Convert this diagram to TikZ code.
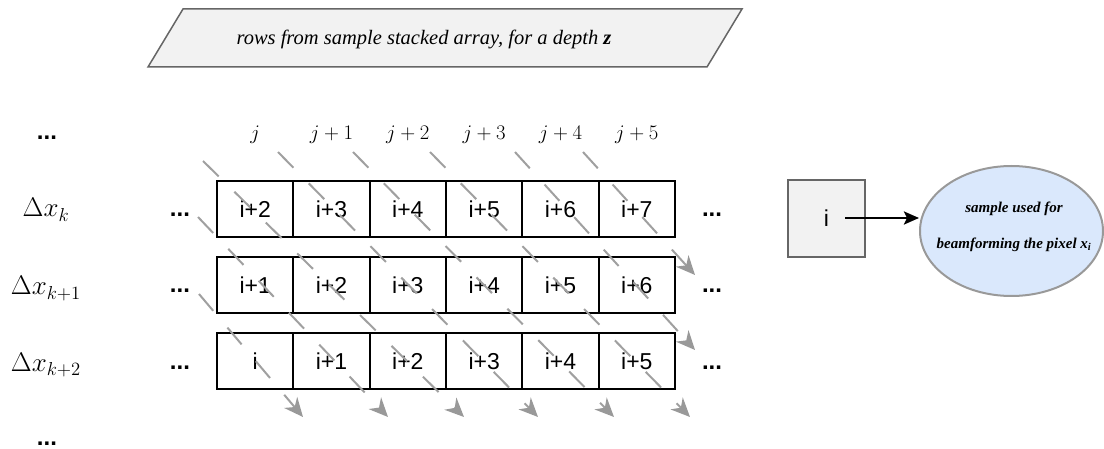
\documentclass[tikz,border=0pt]{standalone}
\usepackage[no-math]{fontspec}
\setmainfont{Liberation Serif}
\newfontfamily\arialf{Liberation Sans}
\usetikzlibrary{arrows.meta,shapes.geometric}
\definecolor{pgray}{HTML}{F2F2F2}
\definecolor{pborder}{HTML}{666666}
\definecolor{dgray}{HTML}{A0A0A0}
\definecolor{agray}{HTML}{999999}
\definecolor{eblue}{HTML}{DAE8FC}
\definecolor{eborder}{HTML}{999999}
\begin{document}
\begin{tikzpicture}[x=1pt,y=-1pt,
  cell/.style={draw=black, line width=2pt, minimum width=76.33pt, minimum height=56pt, inner sep=0pt, font=\arialf\fontsize{23}{27}\selectfont},
  dots/.style={font=\arialf\bfseries\fontsize{24}{28}\selectfont, anchor=base, inner sep=0pt},
  collab/.style={font=\fontsize{20.74}{24}\selectfont, anchor=base, inner sep=0pt},
  rowlab/.style={font=\fontsize{20.74}{24}\selectfont, anchor=base, inner sep=0pt, scale=1.3, transform shape},
  darrow/.style={draw=dgray, line width=2pt, dash pattern=on 22pt off 22pt, -{Stealth[length=19pt,width=17pt,inset=6pt,color=agray,fill=agray]}},
]
\useasboundingbox (0,0) rectangle (1104,449);

% title parallelogram
\coordinate (p1) at (183,9);
\coordinate (p2) at (742,9);
\coordinate (p3) at (707,67);
\coordinate (p4) at (148,67);
\draw[draw=pborder, fill=pgray, line width=1.5pt, line join=miter] (p1) -- (p2) -- (p3) -- (p4) -- cycle;
\node[anchor=base, inner sep=0pt, font=\fontsize{20.5}{24}\selectfont\itshape] (titletext) at (424,45)
      {rows from sample stacked array, for a depth \textbf{z}};

% column labels
\foreach \c/\t in {1/j,2/j+1,3/j+2,4/j+3,5/j+4,6/j+5}
  \node[collab] (col\c) at ({217+76.333*(\c-0.5)},140) {$\t$};

% row labels
\node[rowlab] (dk0) at (46,217) {$\Delta x_k$};
\node[rowlab] (dk1) at (46,295) {$\Delta x_{k+1}$};
\node[rowlab] (dk2) at (46,371) {$\Delta x_{k+2}$};

% dots
\node[dots] (dtop) at (47,140) {...};
\node[dots] (dbot) at (47,445) {...};
\foreach \r/\y in {1/217,2/293,3/369} {
  \node[dots] (dl\r) at (180,\y) {...};
  \node[dots] (dr\r) at (712,\y) {...};
}

% cells
\foreach \c in {1,...,6} {
  \pgfmathtruncatemacro{\a}{\c+1}
  \pgfmathtruncatemacro{\b}{\c-1}
  \node[cell] (ca\c) at ({217+76.333*(\c-0.5)},209) {i+\a};
  \node[cell] (cb\c) at ({217+76.333*(\c-0.5)},285) {i+\c};
  \ifnum\c=1
    \node[cell] (cc\c) at ({217+76.333*(\c-0.5)},361) {i};
  \else
    \node[cell] (cc\c) at ({217+76.333*(\c-0.5)},361) {i+\b};
  \fi
}

% dashed diagonal arrows
\foreach \i/\sx/\sy/\ex/\ey in {1/199/294/303/417, 2/198/217/388/417, 3/203/161/464/417,
    4/278/152/538/417, 5/353/152/614/417, 6/430/152/690/417, 7/515/152/695/350, 8/583/152/695/275} {
  \coordinate (s\i) at (\sx,\sy);
  \coordinate (e\i) at (\ex,\ey);
  \draw[darrow] (s\i) -- (e\i);
}

% legend
\node[draw=pborder, fill=pgray, line width=2pt, minimum size=77pt, inner sep=0pt,
      font=\arialf\fontsize{23}{27}\selectfont] (sq) at (826.5,218.5) {i};
\node[ellipse, draw=eborder, fill=eblue, line width=2pt, minimum width=183pt, minimum height=130pt, inner sep=0pt]
      (ell) at (1011.5,231) {};
\node[align=center, inner sep=0pt, font=\fontsize{15}{36}\selectfont\bfseries\itshape] (etext) at (1014,226.5)
      {sample used for\\beamforming the pixel x\textsubscript{i}};
\coordinate (sqa) at (845,218);
\draw[line width=2.5pt, -{Stealth[length=15pt,width=13pt,inset=3pt]}] (sqa) -- (sqa -| ell.west);
\end{tikzpicture}
\end{document}
